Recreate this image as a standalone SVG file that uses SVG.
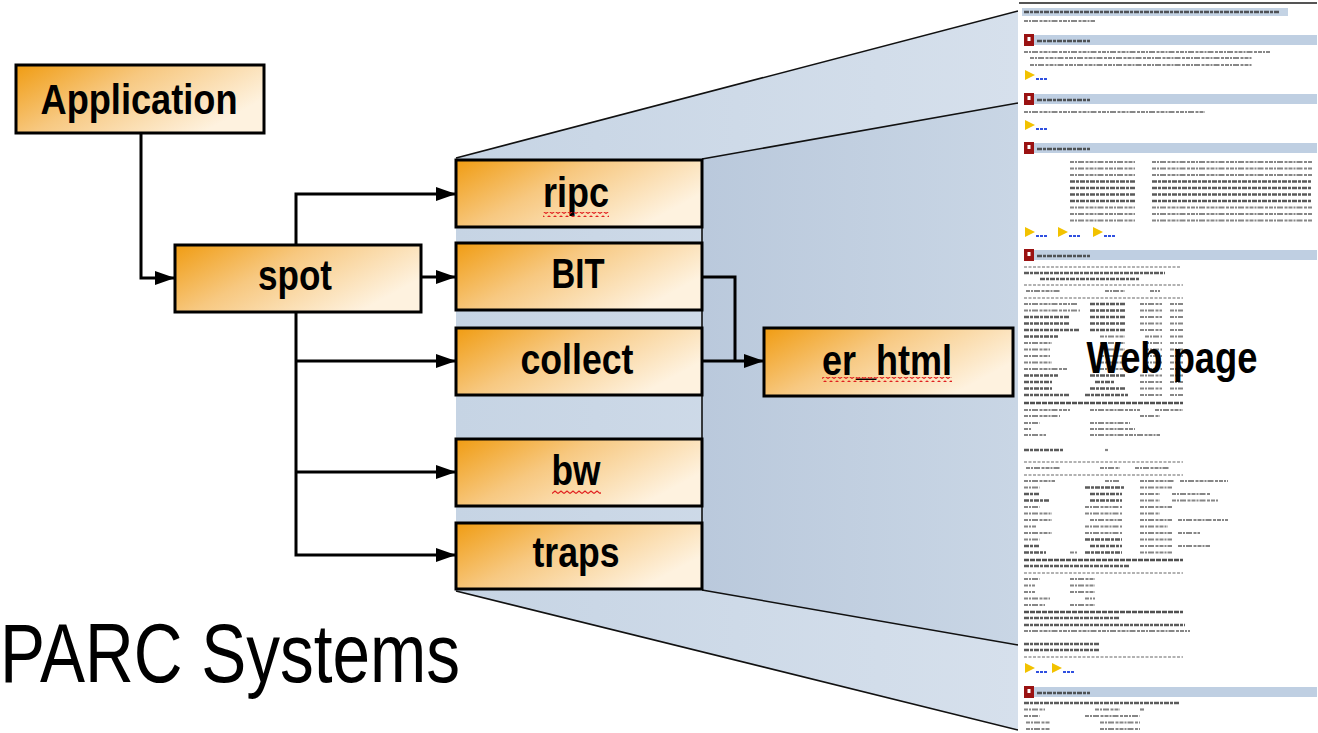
<svg xmlns="http://www.w3.org/2000/svg" xmlns:xlink="http://www.w3.org/1999/xlink" width="1318" height="733" viewBox="0 0 1318 733">
  <style>
    .box { stroke: #000; stroke-width: 3; fill: url(#boxFill); }
    .lbl { font-family: "Liberation Sans", Arial, sans-serif; font-weight: bold; font-size: 43px; fill: #000; text-anchor: middle; }
    .wire { fill: none; stroke: #000; stroke-width: 3; }
    .edge { fill: none; stroke: #111; stroke-width: 1.6; }
    .tx { stroke: #555; stroke-width: 2.2; stroke-dasharray: 4 1 2 1 6 1.5 3 1; opacity: 0.7; }
    .tb { stroke: #333; stroke-width: 2.4; stroke-dasharray: 5 1 3 1; opacity: 0.8; }
    .tl { stroke: #999; stroke-width: 1.4; stroke-dasharray: 3 1.5; }
    .hv { stroke: #333; stroke-width: 2.6; stroke-dasharray: 5 1; opacity: 0.85; }
    .bar { fill: #bfcfe2; }
    .ico { fill: #9a1212; }
  </style>
  <defs>
    <linearGradient id="boxFill" x1="0" y1="0" x2="1" y2="0.5">
      <stop offset="0" stop-color="#f09c12"/>
      <stop offset="0.45" stop-color="#f7c880"/>
      <stop offset="1" stop-color="#fef2df"/>
    </linearGradient>
    <linearGradient id="innerFill" x1="0" y1="0" x2="1" y2="0">
      <stop offset="0" stop-color="#bac9dc"/>
      <stop offset="1" stop-color="#c9d6e5"/>
    </linearGradient>
    <linearGradient id="outerFill" x1="0" y1="0" x2="1" y2="0">
      <stop offset="0" stop-color="#c6d4e4"/>
      <stop offset="1" stop-color="#d6e0ec"/>
    </linearGradient>
    <marker id="arrow" markerUnits="userSpaceOnUse" viewBox="0 0 20 14" refX="20" refY="7" markerWidth="20" markerHeight="14" orient="auto">
      <path d="M0,0 L20,7 L0,14 Z" fill="#000"/>
    </marker>
    <pattern id="wave" patternUnits="userSpaceOnUse" width="6" height="5">
      <path d="M0,3.5 L3,1 L6,3.5" fill="none" stroke="#e02020" stroke-width="1.2"/>
    </pattern>
    <!-- section header of the page: red icon + tinted bar -->
    <g id="hdr">
      <rect class="bar" x="1024" y="1" width="293" height="10"/>
      <rect class="ico" x="1024" y="0" width="10" height="12"/>
      <rect x="1027.5" y="3" width="3" height="4" fill="#fff"/>
      <line class="tb" x1="1037" y1="7" x2="1090" y2="7"/>
    </g>
    <!-- yellow link arrow -->
    <g id="lnk">
      <path d="M0,0 L10,5 L0,10 Z" fill="#f2c200"/>
      <line x1="11" y1="9" x2="22" y2="9" stroke="#3050e0" stroke-width="2" stroke-dasharray="3 1"/>
    </g>
  </defs>

  <rect width="1318" height="733" fill="#fff"/>

  <!-- zoom funnel from the module stack to the page -->
  <g id="funnel">
    <polygon points="456,158 1018,11 1018,730 456,591" fill="url(#outerFill)"/>
    <polygon points="702,159 1018,103 1018,645 702,590" fill="url(#innerFill)"/>
    <line class="edge" x1="456" y1="158" x2="1018" y2="11"/>
    <line class="edge" x1="702" y1="159" x2="1018" y2="103"/>
    <line class="edge" x1="702" y1="590" x2="1018" y2="645"/>
    <line class="edge" x1="456" y1="591" x2="1018" y2="730"/>
    <line class="edge" x1="702" y1="159" x2="702" y2="590"/>
  </g>

  <!-- web page thumbnail -->
  <g id="web-page">
    <rect x="1018" y="0" width="300" height="733" fill="#fff"/>
    <line x1="1019" y1="3" x2="1317" y2="3" stroke="#555" stroke-width="2"/>
    <rect x="1022" y="8" width="266" height="8" fill="#c4d3e4"/>
    <line class="tb" x1="1024" y1="12" x2="1280" y2="12"/>
    <line class="tx" x1="1024" y1="21" x2="1095" y2="21"/>

    <use xlink:href="#hdr" y="34"/>
    <line class="tx" x1="1024" y1="52" x2="1270" y2="52"/>
    <line class="tx" x1="1030" y1="58" x2="1252" y2="58"/>
    <line class="tx" x1="1030" y1="65" x2="1252" y2="65"/>
    <use xlink:href="#lnk" x="1025" y="70"/>

    <use xlink:href="#hdr" y="93"/>
    <line class="tx" x1="1024" y1="112" x2="1205" y2="112"/>
    <use xlink:href="#lnk" x="1025" y="120"/>

    <use xlink:href="#hdr" y="142"/>
    <g id="sec3-rows">
      <line class="tx" x1="1070" y1="162" x2="1135" y2="162"/><line class="tx" x1="1152" y1="162" x2="1312" y2="162"/>
      <line class="tx" x1="1070" y1="168.5" x2="1135" y2="168.5"/><line class="tx" x1="1152" y1="168.5" x2="1312" y2="168.5"/>
      <line class="tx" x1="1070" y1="175" x2="1135" y2="175"/><line class="tx" x1="1152" y1="175" x2="1312" y2="175"/>
      <line class="tb" x1="1070" y1="181.5" x2="1135" y2="181.5"/><line class="tb" x1="1152" y1="181.5" x2="1312" y2="181.5"/>
      <line class="tb" x1="1070" y1="188" x2="1135" y2="188"/><line class="tb" x1="1152" y1="188" x2="1312" y2="188"/>
      <line class="tb" x1="1070" y1="194.5" x2="1135" y2="194.5"/><line class="tb" x1="1152" y1="194.5" x2="1312" y2="194.5"/>
      <line class="tb" x1="1070" y1="201" x2="1135" y2="201"/><line class="tb" x1="1152" y1="201" x2="1312" y2="201"/>
      <line class="tx" x1="1070" y1="207.5" x2="1135" y2="207.5"/><line class="tx" x1="1152" y1="207.5" x2="1312" y2="207.5"/>
      <line class="tx" x1="1070" y1="214" x2="1135" y2="214"/><line class="tx" x1="1152" y1="214" x2="1312" y2="214"/>
      <line class="tx" x1="1070" y1="220.5" x2="1135" y2="220.5"/><line class="tx" x1="1152" y1="220.5" x2="1312" y2="220.5"/>
    </g>
    <use xlink:href="#lnk" x="1025" y="227"/>
    <use xlink:href="#lnk" x="1058" y="227"/>
    <use xlink:href="#lnk" x="1093" y="227"/>

    <use xlink:href="#hdr" y="249"/>
    <line class="tl" x1="1024" y1="267" x2="1180" y2="267"/>
    <line class="tb" x1="1024" y1="273" x2="1165" y2="273"/>
    <line class="tb" x1="1040" y1="279" x2="1140" y2="279"/>
    <line class="tl" x1="1024" y1="285" x2="1183" y2="285"/>
    <line class="tx" x1="1026" y1="291" x2="1060" y2="291"/><line class="tx" x1="1105" y1="291" x2="1125" y2="291"/><line class="tx" x1="1150" y1="291" x2="1160" y2="291"/>
    <line class="tl" x1="1024" y1="298" x2="1183" y2="298"/>
    <g id="sec4-table">
      <line class="tx" x1="1024" y1="304" x2="1078" y2="304"/><line class="tb" x1="1090" y1="304" x2="1125" y2="304"/><line class="tx" x1="1140" y1="304" x2="1162" y2="304"/><line class="tx" x1="1170" y1="304" x2="1183" y2="304"/>
      <line class="tx" x1="1024" y1="310.5" x2="1080" y2="310.5"/><line class="tb" x1="1090" y1="310.5" x2="1125" y2="310.5"/><line class="tx" x1="1140" y1="310.5" x2="1162" y2="310.5"/><line class="tx" x1="1170" y1="310.5" x2="1183" y2="310.5"/>
      <line class="tb" x1="1024" y1="317" x2="1070" y2="317"/><line class="tb" x1="1090" y1="317" x2="1125" y2="317"/><line class="tx" x1="1140" y1="317" x2="1162" y2="317"/><line class="tx" x1="1170" y1="317" x2="1183" y2="317"/>
      <line class="tb" x1="1024" y1="323.5" x2="1070" y2="323.5"/><line class="tb" x1="1090" y1="323.5" x2="1125" y2="323.5"/><line class="tx" x1="1140" y1="323.5" x2="1162" y2="323.5"/><line class="tx" x1="1170" y1="323.5" x2="1183" y2="323.5"/>
      <line class="tb" x1="1024" y1="330" x2="1080" y2="330"/><line class="tb" x1="1090" y1="330" x2="1125" y2="330"/><line class="tx" x1="1140" y1="330" x2="1162" y2="330"/><line class="tx" x1="1170" y1="330" x2="1183" y2="330"/>
      <line class="tb" x1="1024" y1="336.5" x2="1058" y2="336.5"/><line class="tx" x1="1100" y1="336.5" x2="1125" y2="336.5"/><line class="tx" x1="1145" y1="336.5" x2="1162" y2="336.5"/><line class="tx" x1="1170" y1="336.5" x2="1183" y2="336.5"/>
      <line class="tx" x1="1024" y1="343" x2="1052" y2="343"/><line class="tx" x1="1100" y1="343" x2="1125" y2="343"/><line class="tx" x1="1145" y1="343" x2="1162" y2="343"/><line class="tx" x1="1170" y1="343" x2="1183" y2="343"/>
      <line class="tx" x1="1024" y1="349.5" x2="1050" y2="349.5"/><line class="tx" x1="1100" y1="349.5" x2="1125" y2="349.5"/><line class="tx" x1="1145" y1="349.5" x2="1162" y2="349.5"/><line class="tx" x1="1170" y1="349.5" x2="1183" y2="349.5"/>
      <line class="tx" x1="1024" y1="356" x2="1050" y2="356"/><line class="tx" x1="1100" y1="356" x2="1125" y2="356"/><line class="tx" x1="1145" y1="356" x2="1162" y2="356"/><line class="tx" x1="1170" y1="356" x2="1183" y2="356"/>
      <line class="tx" x1="1024" y1="362.5" x2="1052" y2="362.5"/><line class="tx" x1="1100" y1="362.5" x2="1125" y2="362.5"/><line class="tx" x1="1145" y1="362.5" x2="1162" y2="362.5"/><line class="tx" x1="1170" y1="362.5" x2="1183" y2="362.5"/>
      <line class="tx" x1="1024" y1="369" x2="1068" y2="369"/><line class="tx" x1="1100" y1="369" x2="1125" y2="369"/><line class="tx" x1="1145" y1="369" x2="1162" y2="369"/><line class="tx" x1="1170" y1="369" x2="1183" y2="369"/>
      <line class="tb" x1="1024" y1="375.5" x2="1058" y2="375.5"/><line class="tb" x1="1090" y1="375.5" x2="1125" y2="375.5"/><line class="tx" x1="1140" y1="375.5" x2="1162" y2="375.5"/><line class="tx" x1="1170" y1="375.5" x2="1183" y2="375.5"/>
      <line class="tb" x1="1024" y1="382" x2="1052" y2="382"/><line class="tb" x1="1095" y1="382" x2="1115" y2="382"/><line class="tx" x1="1140" y1="382" x2="1162" y2="382"/><line class="tx" x1="1170" y1="382" x2="1183" y2="382"/>
      <line class="tb" x1="1024" y1="388.5" x2="1052" y2="388.5"/><line class="tb" x1="1090" y1="388.5" x2="1125" y2="388.5"/><line class="tx" x1="1140" y1="388.5" x2="1162" y2="388.5"/><line class="tx" x1="1170" y1="388.5" x2="1183" y2="388.5"/>
      <line class="tb" x1="1024" y1="395" x2="1070" y2="395"/><line class="tb" x1="1085" y1="395" x2="1128" y2="395"/><line class="tx" x1="1140" y1="395" x2="1162" y2="395"/><line class="tx" x1="1170" y1="395" x2="1183" y2="395"/>
    </g>
    <line class="hv" x1="1024" y1="403" x2="1183" y2="403"/>
    <line class="tx" x1="1024" y1="410" x2="1070" y2="410"/><line class="tx" x1="1090" y1="410" x2="1140" y2="410"/><line class="tx" x1="1155" y1="410" x2="1183" y2="410"/>
    <line class="tx" x1="1024" y1="416" x2="1060" y2="416"/><line class="tx" x1="1140" y1="416" x2="1160" y2="416"/>
    <line class="tx" x1="1024" y1="423" x2="1040" y2="423"/><line class="tx" x1="1090" y1="423" x2="1130" y2="423"/>
    <line class="tx" x1="1024" y1="429" x2="1032" y2="429"/><line class="tx" x1="1090" y1="429" x2="1135" y2="429"/>
    <line class="tx" x1="1024" y1="435" x2="1046" y2="435"/><line class="tx" x1="1090" y1="435" x2="1160" y2="435"/>
    <line class="tb" x1="1024" y1="450" x2="1063" y2="450"/><line class="tx" x1="1105" y1="450" x2="1108" y2="450"/>
    <line class="tl" x1="1024" y1="462" x2="1183" y2="462"/>
    <line class="tx" x1="1026" y1="468" x2="1060" y2="468"/><line class="tx" x1="1100" y1="468" x2="1120" y2="468"/><line class="tx" x1="1135" y1="468" x2="1170" y2="468"/>
    <line class="tl" x1="1024" y1="475" x2="1183" y2="475"/>
    <g id="sec4-table2">
      <line class="tx" x1="1024" y1="481" x2="1055" y2="481"/><line class="tx" x1="1105" y1="481" x2="1120" y2="481"/><line class="tx" x1="1140" y1="481" x2="1175" y2="481"/><line class="tx" x1="1180" y1="481" x2="1228" y2="481"/>
      <line class="tx" x1="1024" y1="487.5" x2="1040" y2="487.5"/><line class="tb" x1="1085" y1="487.5" x2="1125" y2="487.5"/><line class="tx" x1="1140" y1="487.5" x2="1172" y2="487.5"/>
      <line class="tb" x1="1024" y1="494" x2="1040" y2="494"/><line class="tb" x1="1090" y1="494" x2="1122" y2="494"/><line class="tx" x1="1140" y1="494" x2="1160" y2="494"/><line class="tx" x1="1172" y1="494" x2="1210" y2="494"/>
      <line class="tb" x1="1024" y1="500.5" x2="1050" y2="500.5"/><line class="tb" x1="1090" y1="500.5" x2="1122" y2="500.5"/><line class="tx" x1="1140" y1="500.5" x2="1160" y2="500.5"/><line class="tx" x1="1172" y1="500.5" x2="1218" y2="500.5"/>
      <line class="tx" x1="1024" y1="507" x2="1040" y2="507"/><line class="tx" x1="1085" y1="507" x2="1122" y2="507"/><line class="tx" x1="1140" y1="507" x2="1172" y2="507"/>
      <line class="tx" x1="1024" y1="513.5" x2="1052" y2="513.5"/><line class="tx" x1="1085" y1="513.5" x2="1122" y2="513.5"/><line class="tx" x1="1140" y1="513.5" x2="1160" y2="513.5"/>
      <line class="tx" x1="1024" y1="520" x2="1052" y2="520"/><line class="tx" x1="1090" y1="520" x2="1122" y2="520"/><line class="tx" x1="1140" y1="520" x2="1172" y2="520"/><line class="tx" x1="1178" y1="520" x2="1228" y2="520"/>
      <line class="tx" x1="1024" y1="526.5" x2="1036" y2="526.5"/><line class="tx" x1="1085" y1="526.5" x2="1122" y2="526.5"/><line class="tx" x1="1140" y1="526.5" x2="1168" y2="526.5"/>
      <line class="tx" x1="1024" y1="533" x2="1052" y2="533"/><line class="tx" x1="1085" y1="533" x2="1122" y2="533"/><line class="tx" x1="1140" y1="533" x2="1172" y2="533"/><line class="tx" x1="1178" y1="533" x2="1200" y2="533"/>
      <line class="tx" x1="1024" y1="539.5" x2="1040" y2="539.5"/><line class="tb" x1="1085" y1="539.5" x2="1122" y2="539.5"/><line class="tx" x1="1140" y1="539.5" x2="1172" y2="539.5"/>
      <line class="tb" x1="1024" y1="546" x2="1040" y2="546"/><line class="tb" x1="1090" y1="546" x2="1122" y2="546"/><line class="tx" x1="1140" y1="546" x2="1172" y2="546"/><line class="tx" x1="1178" y1="546" x2="1210" y2="546"/>
      <line class="tb" x1="1024" y1="552.5" x2="1046" y2="552.5"/><line class="tx" x1="1070" y1="552.5" x2="1078" y2="552.5"/><line class="tb" x1="1085" y1="552.5" x2="1122" y2="552.5"/><line class="tx" x1="1140" y1="552.5" x2="1172" y2="552.5"/>
    </g>
    <line class="hv" x1="1024" y1="560" x2="1183" y2="560"/>
    <line class="tb" x1="1024" y1="566" x2="1130" y2="566"/>
    <line class="tl" x1="1024" y1="573" x2="1183" y2="573"/>
    <line class="tx" x1="1024" y1="579" x2="1040" y2="579"/><line class="tx" x1="1070" y1="579" x2="1095" y2="579"/>
    <line class="tx" x1="1024" y1="585.5" x2="1035" y2="585.5"/><line class="tx" x1="1070" y1="585.5" x2="1095" y2="585.5"/>
    <line class="tx" x1="1024" y1="592" x2="1035" y2="592"/><line class="tx" x1="1070" y1="592" x2="1095" y2="592"/>
    <line class="tx" x1="1024" y1="598.5" x2="1050" y2="598.5"/><line class="tx" x1="1085" y1="598.5" x2="1095" y2="598.5"/>
    <line class="tx" x1="1024" y1="605" x2="1045" y2="605"/><line class="tx" x1="1070" y1="605" x2="1095" y2="605"/>
    <line class="hv" x1="1024" y1="612" x2="1183" y2="612"/>
    <line class="tb" x1="1024" y1="618" x2="1120" y2="618"/>
    <line class="tb" x1="1024" y1="625" x2="1185" y2="625"/>
    <line class="tx" x1="1024" y1="631" x2="1190" y2="631"/>
    <line class="tb" x1="1024" y1="644" x2="1100" y2="644"/>
    <line class="tb" x1="1024" y1="650" x2="1100" y2="650"/>
    <line class="tl" x1="1024" y1="657" x2="1183" y2="657"/>
    <use xlink:href="#lnk" x="1025" y="663"/>
    <use xlink:href="#lnk" x="1052" y="663"/>

    <use xlink:href="#hdr" y="686"/>
    <line class="tb" x1="1024" y1="703" x2="1180" y2="703"/>
    <line class="tx" x1="1024" y1="709.5" x2="1045" y2="709.5"/><line class="tx" x1="1095" y1="709.5" x2="1120" y2="709.5"/><line class="tx" x1="1140" y1="709.5" x2="1145" y2="709.5"/>
    <line class="tx" x1="1024" y1="716" x2="1040" y2="716"/><line class="tx" x1="1085" y1="716" x2="1140" y2="716"/>
    <line class="tx" x1="1026" y1="722.5" x2="1050" y2="722.5"/><line class="tx" x1="1100" y1="722.5" x2="1140" y2="722.5"/>
    <line class="tx" x1="1026" y1="729" x2="1050" y2="729"/><line class="tx" x1="1100" y1="729" x2="1140" y2="729"/>

    <text x="1172" y="373" class="lbl" textLength="171" lengthAdjust="spacingAndGlyphs" style="font-size:45px">Web page</text>
  </g>

  <!-- connectors -->
  <g id="connectors">
    <path class="wire" d="M141,133 V278 H175" marker-end="url(#arrow)"/>
    <path class="wire" d="M296,245 V194 H456" marker-end="url(#arrow)"/>
    <path class="wire" d="M421,277 H456" marker-end="url(#arrow)"/>
    <path class="wire" d="M296,312 V555 H456" marker-end="url(#arrow)"/>
    <path class="wire" d="M296,361 H456" marker-end="url(#arrow)"/>
    <path class="wire" d="M296,472 H456" marker-end="url(#arrow)"/>
    <path class="wire" d="M702,277 H735 V361"/>
    <path class="wire" d="M702,361 H764" marker-end="url(#arrow)"/>
  </g>

  <g id="node-application">
    <rect class="box" x="16" y="65" width="248" height="68"/>
    <text class="lbl" x="139" y="114" textLength="197" lengthAdjust="spacingAndGlyphs">Application</text>
  </g>
  <g id="node-spot">
    <rect class="box" x="175" y="245" width="246" height="67"/>
    <text class="lbl" x="295" y="290" textLength="74" lengthAdjust="spacingAndGlyphs">spot</text>
  </g>
  <g id="node-ripc">
    <rect class="box" x="456" y="160" width="246" height="67"/>
    <text class="lbl" x="576" y="207" textLength="66" lengthAdjust="spacingAndGlyphs">ripc</text>
    <rect x="543" y="212" width="66" height="5" fill="url(#wave)"/>
  </g>
  <g id="node-bit">
    <rect class="box" x="456" y="243" width="246" height="67"/>
    <text class="lbl" x="578" y="288" textLength="53" lengthAdjust="spacingAndGlyphs">BIT</text>
  </g>
  <g id="node-collect">
    <rect class="box" x="456" y="328" width="246" height="67"/>
    <text class="lbl" x="577" y="374" textLength="113" lengthAdjust="spacingAndGlyphs">collect</text>
  </g>
  <g id="node-bw">
    <rect class="box" x="456" y="439" width="246" height="67"/>
    <text class="lbl" x="576" y="485" textLength="49" lengthAdjust="spacingAndGlyphs">bw</text>
    <rect x="552" y="489" width="49" height="5" fill="url(#wave)"/>
  </g>
  <g id="node-traps">
    <rect class="box" x="456" y="523" width="246" height="66"/>
    <text class="lbl" x="576" y="567" textLength="87" lengthAdjust="spacingAndGlyphs">traps</text>
  </g>
  <g id="node-er-html">
    <rect class="box" x="764" y="328" width="249" height="68"/>
    <text class="lbl" x="887" y="375" textLength="130" lengthAdjust="spacingAndGlyphs">er_html</text>
    <rect x="822" y="377" width="130" height="5" fill="url(#wave)"/>
  </g>

  <text x="0" y="682" font-family="'Liberation Sans', Arial, sans-serif" font-size="83" fill="#000" textLength="460" lengthAdjust="spacingAndGlyphs">PARC Systems</text>
</svg>
